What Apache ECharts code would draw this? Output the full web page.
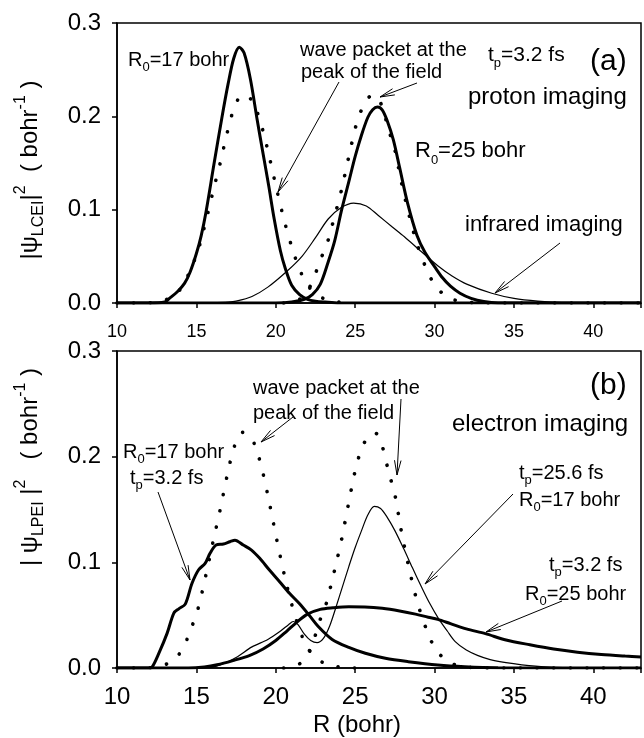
<!DOCTYPE html>
<html>
<head>
<meta charset="utf-8">
<script src="https://cdn.jsdelivr.net/npm/echarts@6/dist/echarts.min.js"></script>
<style>html,body{margin:0;padding:0;background:#fff}#chart{width:644px;height:738px}</style>
</head>
<body>
<div id="chart"></div>
<script>
var F = "'Liberation Sans', Arial, Helvetica, sans-serif";

// tick labels
var xTickLabels = [10, 15, 20, 25, 30, 35, 40];
var yTickLabels = [0, 0.1, 0.2, 0.3];

// (a) proton imaging, R0=17 bohr (thick)
var pR17_R = [10, 12, 13, 13.3, 13.8, 14.25, 14.6, 15, 15.3, 15.6, 16.1, 16.6, 17, 17.35, 17.7, 18.0, 18.4, 18.83, 19.2, 19.56, 19.9, 20.29, 20.6, 21.0, 21.5, 22, 22.5, 23.1, 24, 43];
var pR17_v = [0, 0, 0.001, 0.005, 0.012, 0.021, 0.033, 0.053, 0.072, 0.097, 0.148, 0.198, 0.235, 0.262, 0.274, 0.268, 0.24, 0.196, 0.16, 0.125, 0.09, 0.056, 0.037, 0.019, 0.009, 0.004, 0.002, 0.001, 0, 0];
// (a) proton imaging, R0=25 bohr (thick)
var pR25_R = [10, 20, 21, 21.8, 22.3, 22.8, 23.3, 23.7, 24.15, 24.6, 25.0, 25.4, 25.8, 26.1, 26.4, 26.7, 27.0, 27.4, 27.8, 28.3, 28.9, 29.4, 30.0, 30.5, 31.0, 31.6, 32.3, 33.1, 34, 43];
var pR25_v = [0, 0, 0.001, 0.004, 0.009, 0.02, 0.044, 0.066, 0.1, 0.13, 0.157, 0.18, 0.199, 0.207, 0.21, 0.207, 0.196, 0.175, 0.145, 0.107, 0.072, 0.054, 0.039, 0.027, 0.018, 0.0105, 0.005, 0.0015, 0, 0];
// (a) infrared imaging (thin)
var ir_R = [10, 15, 16, 17, 17.5, 18.5, 19.5, 20.7, 21.65, 22.5, 23.3, 24.1, 24.9, 25.7, 26.44, 27.3, 28.1, 29.1, 30.2, 31.1, 32.06, 33.6, 35, 36.5, 38, 43];
var ir_v = [0, 0, 0.0003, 0.001, 0.002, 0.007, 0.017, 0.034, 0.05, 0.07, 0.09, 0.102, 0.107, 0.104, 0.094, 0.082, 0.071, 0.056, 0.04, 0.029, 0.02, 0.0105, 0.005, 0.002, 0.0005, 0];

// wave packets at the peak of the field (dotted, both panels)
var wpA_R = [10, 11.5, 12.5, 13.3, 13.8, 14.2, 14.66, 15.1, 15.6, 16.07, 16.5, 16.95, 17.4, 17.9, 18.4, 18.8, 19.2, 19.6, 20.08, 20.6, 21.1, 21.5, 21.9, 22.4, 23, 24, 25];
var wpA_v = [0, 0, 0.001, 0.005, 0.011, 0.02, 0.037, 0.056, 0.088, 0.121, 0.15, 0.183, 0.21, 0.223, 0.219, 0.206, 0.184, 0.156, 0.12, 0.084, 0.055, 0.036, 0.022, 0.011, 0.005, 0.001, 0];
var wpB_R = [20.5, 21.5, 22.0, 22.4, 22.8, 23.2, 23.5, 23.85, 24.15, 24.6, 25.05, 25.4, 25.9, 26.3, 26.7, 27.1, 27.5, 27.9, 28.4, 28.9, 29.5, 30.05, 30.6, 31.1, 32, 33, 43];
var wpB_v = [0, 0.004, 0.013, 0.027, 0.046, 0.062, 0.08, 0.102, 0.122, 0.157, 0.19, 0.207, 0.221, 0.222, 0.21, 0.186, 0.164, 0.13, 0.094, 0.063, 0.036, 0.018, 0.009, 0.004, 0.001, 0, 0];

// (b) electron imaging, tp=3.2 fs R0=17 bohr (thick)
var eA_R = [10, 12, 12.22, 12.64, 13.16, 13.58, 13.89, 14.3, 14.72, 15.14, 15.55, 15.86, 16.24, 16.7, 17.11, 17.43, 17.95, 18.47, 18.99, 19.6, 20.24, 20.86, 21.47, 22.1, 22.72, 23.55, 24.6, 25.64, 26.9, 28.34, 30.2, 31.9, 34, 43];
var eA_v = [0, 0, 0.001, 0.014, 0.033, 0.052, 0.056, 0.0605, 0.08, 0.093, 0.099, 0.1085, 0.1164, 0.1173, 0.1195, 0.121, 0.1164, 0.1116, 0.1038, 0.0927, 0.0817, 0.0707, 0.0612, 0.05, 0.0385, 0.027, 0.0195, 0.0139, 0.0092, 0.006, 0.0028, 0.0012, 0.0003, 0];
// (b) tp=3.2 fs R0=25 bohr (thick)
var eB_R = [10, 14.5, 15.5, 16.3, 17.3, 18.37, 19.2, 20.0, 20.7, 21.3, 22.0, 22.8, 23.6, 24.6, 25.6, 26.7, 27.8, 28.8, 29.6, 30.2, 31.0, 32, 33.2, 34.5, 36, 37.5, 39, 40.5, 42, 43];
var eB_v = [0, 0, 0.001, 0.003, 0.007, 0.012, 0.018, 0.026, 0.035, 0.043, 0.051, 0.0555, 0.057, 0.058, 0.0578, 0.0565, 0.054, 0.051, 0.048, 0.046, 0.042, 0.037, 0.0325, 0.0265, 0.022, 0.018, 0.015, 0.0128, 0.0113, 0.0105];
// (b) tp=25.6 fs R0=17 bohr (thin)
var eT_R = [10, 15.5, 16.5, 17.5, 18.5, 19.5, 20.3, 20.8, 21.1, 21.4, 21.8, 22.2, 22.6, 23.0, 23.4, 23.8, 24.2, 24.6, 25.0, 25.4, 25.8, 26.2, 26.6, 27.0, 27.5, 28.05, 28.6, 29.2, 29.7, 30.24, 30.8, 31.3, 32, 32.7, 33.5, 34.5, 35.5, 37, 39, 43];
var eT_v = [0, 0, 0.003, 0.01, 0.02, 0.027, 0.035, 0.041, 0.044, 0.041, 0.032, 0.026, 0.024, 0.028, 0.04, 0.058, 0.077, 0.096, 0.114, 0.13, 0.145, 0.153, 0.151, 0.143, 0.13, 0.113, 0.095, 0.076, 0.061, 0.047, 0.035, 0.025, 0.017, 0.012, 0.008, 0.005, 0.003, 0.001, 0, 0];

function pts(r, v) {
	return r.map(function (x, i) { return [x, v[i]]; });
}

function xAxis(g, fs, margin) {
	return {
		type: 'value', gridIndex: g, min: 10, max: 43, interval: 5,
		axisLine: { show: true, onZero: false, lineStyle: { color: '#000', width: 1.5 } },
		axisTick: { show: true, length: 5, lineStyle: { color: '#000', width: 1.5 } },
		axisLabel: {
			fontSize: fs, fontFamily: F, color: '#000', margin: margin,
			formatter: function (v) { return xTickLabels.indexOf(v) >= 0 ? String(v) : ''; }
		},
		splitLine: { show: false }
	};
}
function yAxis(g) {
	return {
		type: 'value', gridIndex: g, min: 0, max: 0.3, interval: 0.1,
		axisLine: { show: true, lineStyle: { color: '#000', width: 1.5 } },
		axisTick: { show: true, length: 5, lineStyle: { color: '#000', width: 1.5 } },
		axisLabel: {
			fontSize: 24, fontFamily: F, color: '#000', margin: 16,
			formatter: function (v) { return yTickLabels.indexOf(Math.round(v * 10) / 10) >= 0 ? v.toFixed(1) : ''; }
		},
		splitLine: { show: false }
	};
}
function curve(data, g, kind) {
	var ls = { color: '#000', width: 3 };
	if (kind === 'thin') ls.width = 1.2;
	if (kind === 'dot') { ls.width = 3.6; ls.type = [0.1, 16.5]; ls.cap = 'round'; }
	return {
		type: 'line', xAxisIndex: g, yAxisIndex: g, data: data,
		showSymbol: false, symbol: 'none', smooth: 0.3, silent: true,
		lineStyle: ls
	};
}

// annotation texts (rich text for sub/superscripts)
var richSmall = {
	s: { fontSize: 13, lineHeight: 14, verticalAlign: 'bottom', fontFamily: F },
	u: { fontSize: 13, lineHeight: 14, verticalAlign: 'top', fontFamily: F }
};
function txt(x, y, text, fs) {
	return {
		type: 'text', x: x, y: y, silent: true,
		style: {
			text: text, fontSize: fs, fontFamily: F, fill: '#000',
			align: 'left', verticalAlign: 'middle', lineHeight: Math.round(fs * 1.4), rich: richSmall
		}
	};
}
function yTitle(x, y, text) {
	return {
		type: 'text', x: x, y: y, rotation: Math.PI / 2, silent: true,
		style: {
			text: text, fontSize: 24, fontFamily: F, fill: '#000',
			align: 'center', verticalAlign: 'middle', lineHeight: 34,
			rich: {
				s: { fontSize: 16, lineHeight: 17, verticalAlign: 'bottom', fontFamily: F },
				u: { fontSize: 16, lineHeight: 17, verticalAlign: 'top', fontFamily: F }
			}
		}
	};
}
function arrow(x1, y1, x2, y2) {
	var dx = x2 - x1, dy = y2 - y1, d = Math.sqrt(dx * dx + dy * dy);
	var ux = dx / d, uy = dy / d, L = 15, a = 0.22;
	var c = Math.cos(a), s = Math.sin(a);
	var p1 = [x2 - L * (ux * c - uy * s), y2 - L * (ux * s + uy * c)];
	var p2 = [x2 - L * (ux * c + uy * s), y2 - L * (-ux * s + uy * c)];
	return [
		{ type: 'line', silent: true, shape: { x1: x1, y1: y1, x2: x2, y2: y2 }, style: { stroke: '#000', lineWidth: 1 } },
		{ type: 'polyline', silent: true, shape: { points: [p1, [x2, y2], p2] }, style: { stroke: '#000', lineWidth: 1, fill: null } }
	];
}

var graphics = [
	yTitle(30, 170, '|ψ{s|LCEI}|{u|2}  ( bohr{u|-1} )'),
	yTitle(30, 467, '| ψ{s|LPEI} |{u|2}   ( bohr{u|-1} )'),
	txt(128, 60, 'R{s|0}=17 bohr', 20),
	txt(300, 50, 'wave packet at the', 20),
	txt(301, 72, 'peak of the field', 20),
	txt(488, 55, 't{s|p}=3.2 fs', 21),
	txt(590, 62, '(a)', 30),
	txt(468, 97, 'proton imaging', 24),
	txt(415, 151, 'R{s|0}=25 bohr', 22),
	txt(465, 225, 'infrared imaging', 22),
	txt(253, 388, 'wave packet at the', 20),
	txt(253, 413, 'peak of the field', 20),
	txt(590, 386, '(b)', 30),
	txt(452, 424, 'electron imaging', 24),
	txt(123, 452, 'R{s|0}=17 bohr', 20),
	txt(130, 478, 't{s|p}=3.2 fs', 20),
	txt(519, 473, 't{s|p}=25.6 fs', 20),
	txt(519, 500, 'R{s|0}=17 bohr', 20),
	txt(549, 565, 't{s|p}=3.2 fs', 20),
	txt(525, 594, 'R{s|0}=25 bohr', 20),
	txt(313, 725, 'R (bohr)', 24)
];
graphics = graphics
	.concat(arrow(339, 82, 278, 192))
	.concat(arrow(417, 83, 380, 97))
	.concat(arrow(560, 243, 495, 293))
	.concat(arrow(158, 492, 190, 580))
	.concat(arrow(293, 417, 261, 442))
	.concat(arrow(401, 399, 397, 475))
	.concat(arrow(513, 494, 425, 584))
	.concat(arrow(562, 601, 486, 632));

var chart = echarts.init(document.getElementById('chart'));
var option = {
	animation: false,
	backgroundColor: '#fff',
	grid: [
		{ left: 117, top: 23, width: 528, height: 280, show: true, borderColor: '#000', borderWidth: 1.5, backgroundColor: 'transparent' },
		{ left: 117, top: 351, width: 528, height: 317, show: true, borderColor: '#000', borderWidth: 1.5, backgroundColor: 'transparent' }
	],
	xAxis: [xAxis(0, 18, 20), xAxis(1, 24, 17)],
	yAxis: [yAxis(0), yAxis(1)],
	series: [
		curve(pts(pR17_R, pR17_v), 0, 'thick'),
		curve(pts(pR25_R, pR25_v), 0, 'thick'),
		curve(pts(ir_R, ir_v), 0, 'thin'),
		curve(pts(wpA_R, wpA_v), 0, 'dot'),
		curve(pts(wpB_R, wpB_v), 0, 'dot'),
		curve(pts(eA_R, eA_v), 1, 'thick'),
		curve(pts(eB_R, eB_v), 1, 'thick'),
		curve(pts(eT_R, eT_v), 1, 'thin'),
		curve(pts(wpA_R, wpA_v), 1, 'dot'),
		curve(pts(wpB_R, wpB_v), 1, 'dot')
	],
	graphic: graphics
};
chart.setOption(option);
</script>
</body>
</html>
